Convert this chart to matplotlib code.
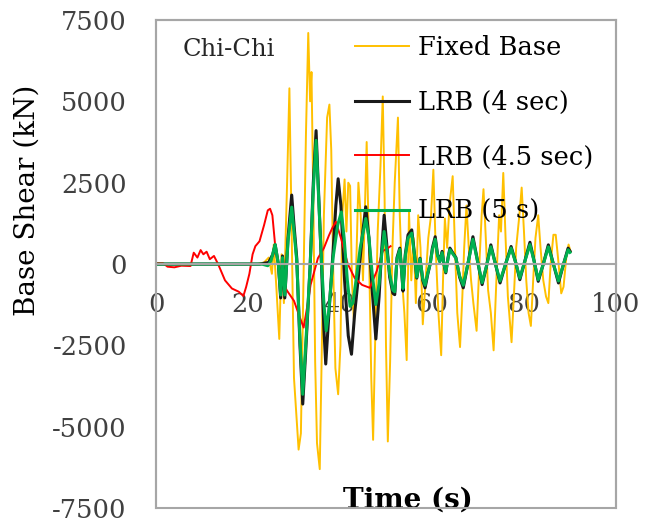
import matplotlib
matplotlib.use("Agg")
import matplotlib.pyplot as plt
from matplotlib.patches import Rectangle

plt.rcParams['font.family'] = ['DejaVu Serif']
plt.rcParams['axes.unicode_minus'] = False

# ---------------- data ----------------
# Fixed Base
t_fixed = [0, 5, 10, 15, 20, 22, 23.5, 24.5, 25.2, 25.6, 26.2, 26.8, 27.3, 27.8, 28.5, 29.0,
           29.5, 30.0, 30.5, 31.0, 31.5, 32.0, 32.6, 33.1, 33.5, 33.8, 34.2, 34.6, 35.0, 35.6,
           36.0, 36.5, 37.2, 37.7, 38.1, 38.5, 39.0, 39.6, 40.1, 40.5, 41.0, 41.4, 41.8, 42.2,
           42.6, 43.0, 43.5, 44.0, 44.5, 45.0, 45.8, 46.3, 46.8, 47.2, 47.7, 48.2, 48.8, 49.3,
           49.7, 50.0, 50.4, 50.9, 51.4, 51.9, 52.6, 53.0, 53.5, 54.0, 54.5, 55.0, 55.5, 56.0,
           56.5, 57.0, 57.5, 58.0, 58.6, 59.2, 59.8, 60.3, 60.8, 61.4, 62.0, 62.4, 62.8, 63.3,
           63.8, 64.5, 65.0, 65.5, 66.1, 66.6, 67.0, 67.5, 68.0, 68.5, 69.0, 69.7, 70.3, 70.8,
           71.2, 71.7, 72.2, 72.8, 73.4, 74.0, 74.6, 75.0, 75.5, 76.0, 76.5, 77.3, 77.8, 78.3,
           79.0, 79.5, 80.0, 80.5, 81.0, 81.5, 82.0, 82.5, 83.1, 83.6, 84.2, 84.8, 85.3, 85.8,
           86.4, 86.9, 87.4, 88.1, 88.6, 89.2, 89.7, 90.1]
v_fixed = [0, 0, 0, 0, 0, 0, 50, 200, -300, 600, -800, -2300, 300, -1200, 2500, 5400,
           1000, -3500, -4600, -5700, -5200, -1000, 4000, 7100, 5000, 5900, 2000, -3000, -5500, -6300,
           -3000, 1500, 4500, 4900, 3500, 0, -3200, -4000, -2500, 1500, 2600, 1000, 2500, 2400,
           -500, -1700, -200, 2500, 1500, -500, 3750, 500, -3500, -5400, -2000, 1000, 3000, 5150,
           2000, -2500, -5450, -3000, 500, 2500, 4500, 1500, -500, -1500, -2950, 1600, -500, 800,
           -1200, 1500, 500, -1850, -500, 800, 1500, 2900, 500, -1500, -2800, -500, 1400, 500,
           1800, 2700, 500, -1500, -2550, -1000, 500, 1800, 500, -500, -1200, -2050, 0, 1500,
           2300, 800, -800, -1500, -2650, -500, 1500, 1000, 2800, 800, -1000, -2400, -1000, 500,
           1500, 2350, 1000, -500, -1500, -1900, -500, 800, 1500, 500, -500, -1000, -1200, 0,
           900, 900, 200, -900, -700, 200, 600, 400]

# LRB (4 sec)
t_lrb4 = [0, 22.5, 24.5, 25.4, 25.9, 26.6, 27.1, 27.5, 28.0, 28.7, 29.5, 30.0, 30.6, 31.3,
          31.9, 32.5, 33.5, 34.2, 34.8, 35.4, 36.0, 36.5, 36.9, 37.6, 38.5, 39.1, 39.6, 40.2,
          41.0, 41.8, 42.5, 43.2, 43.9, 44.8, 45.6, 46.3, 47.0, 47.8, 48.5, 49.0, 49.6, 50.3,
          50.8, 51.5, 51.9, 52.4, 53.0, 53.4, 53.7, 54.2, 54.8, 55.6, 56.2, 56.7, 57.4, 58.0,
          58.5, 59.1, 59.6, 60.1, 60.7, 61.2, 61.7, 62.2, 62.6, 63.0, 63.5, 63.9, 64.5, 65.2,
          66.0, 66.8, 67.8, 68.9, 69.9, 70.9, 71.8, 72.8, 73.8, 74.8, 76.0, 77.2, 78.2, 79.1,
          80.2, 81.3, 82.2, 83.1, 84.2, 85.3, 86.4, 87.5, 88.6, 89.6, 90.0]
v_lrb4 = [0, 0, 50, 300, 600, 0, -1040, 250, -1040, 800, 2120, 1200, 180, -2500,
          -4300, -2800, -100, 2500, 4100, 2000, -100, -2000, -3070, -1500, 400, 1800, 2620, 1800,
          -500, -2200, -2770, -1500, -530, 800, 1760, 800, -800, -2300, -1000, 300, 1500, 400,
          -400, -900, -940, 200, 490, -200, -830, 300, 900, 1050, 300, -430, 180, -500,
          -730, -300, 0, 500, 840, 300, 80, 390, 0, -270, 200, 490, 350, 200,
          -400, -730, 0, 840, 100, -630, -100, 590, 0, -580, 0, 540, 50, -480,
          100, 670, 100, -530, 0, 590, 0, -580, 0, 490, 400]

# LRB (4.5 sec)
t_lrb45 = [0, 1.5, 2.5, 4.0, 5.5, 7.5, 8.2, 9.0, 9.7, 10.3, 11.0, 11.7, 12.6, 13.5, 15.0,
           16.5, 18.0, 19.0, 19.6, 20.3, 21.0, 21.6, 22.5, 23.5, 24.3, 24.8, 25.3, 25.9, 27.3,
           28.5, 30.0, 31.3, 32.1, 33.0, 33.6, 35.2, 36.5, 37.6, 38.3, 39.1, 40.2, 41.7, 43.2,
           44.8, 46.5, 48.0, 49.3, 50.4, 51.0]
v_lrb45 = [30, 30, -80, -100, -50, -60, 350, 200, 430, 300, 380, 150, 250, 0, -500,
           -750, -850, -980, -700, -300, 300, 550, 700, 1200, 1650, 1700, 1500, 580, -520,
           -820, -1130, -1650, -1950, -1200, -640, 180, 490, 880, 1100, 1300, 800, 0, -430,
           -640, -730, -210, 400, 490, 550]

# LRB (5 s)
t_lrb5 = [0, 23, 24.3, 25.0, 25.9, 26.6, 27.1, 27.5, 28.0, 28.7, 29.5, 30.0, 30.6, 31.3,
          31.9, 32.5, 33.5, 34.2, 34.8, 35.4, 36.0, 36.5, 37.0, 37.6, 38.5, 39.5, 40.3, 40.9,
          41.6, 42.2, 42.8, 43.5, 44.4, 45.6, 46.3, 47.0, 47.8, 48.5, 49.0, 49.6, 50.3, 50.8,
          51.5, 51.9, 52.4, 53.0, 53.4, 53.7, 54.2, 54.8, 55.6, 56.2, 56.7, 57.4, 58.0, 58.5,
          59.1, 59.6, 60.1, 60.7, 61.2, 61.7, 62.2, 62.6, 63.0, 63.5, 63.9, 64.5, 65.2, 66.0,
          66.8, 67.8, 68.9, 69.9, 70.9, 71.8, 72.8, 73.8, 74.8, 76.0, 77.2, 78.2, 79.1, 80.2,
          81.3, 82.2, 83.1, 84.2, 85.3, 86.4, 87.5, 88.6, 89.6, 90.0]
v_lrb5 = [0, 0, -50, 100, 600, 0, -950, 200, -950, 700, 1750, 1000, 100, -2300,
          -4000, -2600, -100, 2300, 3800, 1900, 0, -1200, -2050, -1400, 200, 1200, 1600, 800,
          -500, -1300, -1200, -500, 500, 1400, 800, -300, -1240, -600, 200, 1000, 300, -300,
          -800, -850, 150, 450, -200, -750, 250, 800, 950, 270, -400, 160, -450, -650,
          -270, 0, 450, 760, 270, 70, 350, 0, -240, 180, 440, 320, 180, -360,
          -650, 0, 760, 90, -570, -90, 530, 0, -520, 0, 490, 45, -430, 90,
          600, 90, -480, 0, 530, 0, -520, 0, 440, 360]

x_ticks = [0, 20, 40, 60, 80, 100]
y_ticks = [-7500, -5000, -2500, 0, 2500, 5000, 7500]

frame_grey = '#A6A6A6'
tick_grey = '#404040'

fig = plt.figure(figsize=(6.46, 5.25), dpi=100)
ax = fig.add_axes([0.2415, 0.032, 0.712, 0.93])

ax.plot(t_fixed, v_fixed, color='#FFC000', lw=1.4, label='Fixed Base')
ax.plot(t_lrb4, v_lrb4, color='#1a1a1a', lw=2.2, label='LRB (4 sec)')
ax.plot(t_lrb45, v_lrb45, color='#FF0000', lw=1.4, label='LRB (4.5 sec)')
ax.plot(t_lrb5, v_lrb5, color='#00B050', lw=2.2, label='LRB (5 s)')

ax.set_xlim(0, 100)
ax.set_ylim(-7500, 7500)
ax.set_xticks(x_ticks)
ax.set_yticks(y_ticks)

# x axis crosses at zero, outer box drawn around the plot
ax.spines['bottom'].set_position(('data', 0))
for s in ['left', 'right', 'top', 'bottom']:
    ax.spines[s].set_color(frame_grey)
    ax.spines[s].set_linewidth(1.5)
ax.add_patch(Rectangle((0, 0), 1, 1, transform=ax.transAxes, fill=False,
                       edgecolor=frame_grey, lw=1.5, clip_on=False, zorder=5))

ax.tick_params(axis='both', length=0, labelsize=18.5, labelcolor=tick_grey)
ax.tick_params(axis='y', pad=21)
ax.tick_params(axis='x', pad=20)

ax.set_ylabel('Base Shear (kN)', fontsize=20)
ax.yaxis.set_label_coords(-0.25, 0.63)
ax.set_xlabel('Time (s)', fontsize=20, fontweight='bold')
ax.xaxis.set_label_coords(0.548, 0.045)

ax.text(0.057, 0.94, 'Chi-Chi', transform=ax.transAxes, fontsize=17.5,
        color='#262626', va='center', ha='left')

ax.legend(loc='upper left', bbox_to_anchor=(0.4, 1.0), frameon=False, fontsize=18.5,
          handlelength=2.1, handletextpad=0.35, labelspacing=1.15, borderaxespad=0.2)

plt.savefig('out.png', dpi=100)
